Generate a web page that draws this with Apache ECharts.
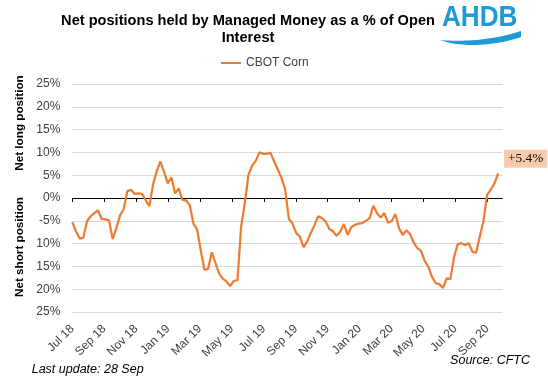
<!DOCTYPE html>
<html><head><meta charset="utf-8">
<script src="https://cdn.jsdelivr.net/npm/echarts@6/dist/echarts.min.js"></script>
<style>html,body{margin:0;padding:0;background:#fff}#c{width:548px;height:386px}</style>
</head><body><div id="c"></div>
<script>
// ---- data ----
const firstWeek = '2018-07-03';          // first weekly report
const seriesName = 'CBOT Corn';
const netPct = [
  -5.3, -7.3, -8.9, -8.7, -5.1, -4.0, -3.3, -2.7, -4.6, -4.7,
  -4.9, -9.0, -6.6, -3.8, -2.4,  1.5,  1.8,  0.9,  1.0,  0.9,
  -0.5, -1.8,  3.0,  5.9,  8.0,  5.7,  3.2,  4.5,  1.0,  2.1,
  -0.4, -0.5, -1.6, -5.6, -6.9,-11.5,-15.8,-15.5,-11.9,-14.2,
 -16.6,-17.7,-18.3,-19.3,-18.2,-18.0, -6.2, -1.1,  5.1,  7.1,
   8.2, 10.0,  9.7,  9.7,  9.9,  8.0,  6.2,  4.4,  1.8, -4.6,
  -5.6, -7.7, -8.5,-10.8, -9.5, -7.6, -5.9, -4.0, -4.4, -5.1,
  -6.8, -7.3, -8.3, -7.4, -5.7, -8.1, -6.4, -5.9, -5.6, -5.5,
  -5.0, -4.4, -1.7, -3.3, -4.3, -3.3, -5.4, -5.1, -3.5, -6.6,
  -8.1, -7.1, -7.9, -9.8,-11.0,-11.6,-13.8,-15.1,-17.3,-18.7,
 -18.9,-19.7,-17.6,-17.8,-12.9,-10.1, -9.9,-10.3, -9.9,-11.8,
 -12.0, -8.5, -5.1,  0.7,  1.8,  3.2,  5.4
];
const tickLabels = ['Jul 18','Sep 18','Nov 18','Jan 19','Mar 19','May 19','Jul 19',
                    'Sep 19','Nov 19','Jan 20','Mar 20','May 20','Jul 20','Sep 20'];

// ---- build ----
const DAYS_PER_MONTH = 30.4375;
const t0 = new Date(firstWeek + 'T00:00:00Z').getTime();
const points = netPct.map((v, i) => {
  const t = t0 + i * 7 * 86400000;
  return [(t - t0) / 86400000 / DAYS_PER_MONTH, v];
});
const tickPos = tickLabels.map((_, i) => i * 2);
const FONT = "'Liberation Sans', Arial, sans-serif";
const xMax = 26.94;

// logo swoosh outline (decorative)
function bez(p0, p1, p2, p3, n) {
  const out = [];
  for (let k = 0; k <= n; k++) {
    const t = k / n, u = 1 - t;
    out.push([u*u*u*p0[0] + 3*u*u*t*p1[0] + 3*u*t*t*p2[0] + t*t*t*p3[0],
              u*u*u*p0[1] + 3*u*u*t*p1[1] + 3*u*t*t*p2[1] + t*t*t*p3[1]]);
  }
  return out;
}
const swoosh = bez([440,40],[458,47],[492,47],[521,37],24)
  .concat(bez([521,31],[494,40],[464,42],[440,40],24));

const chart = echarts.init(document.getElementById('c'), null, {renderer: 'canvas'});
chart.setOption({
  animation: false,
  backgroundColor: '#fff',
  textStyle: {fontFamily: FONT},
  grid: {left: 72.3, right: 45.7, top: 84, bottom: 74, containLabel: false},
  legend: {
    show: true, left: 221, top: 56, padding: 0,
    icon: 'rect', itemWidth: 20, itemHeight: 2,
    textStyle: {fontFamily: FONT, fontSize: 12, color: '#404040', lineHeight: 14},
    data: [seriesName]
  },
  xAxis: [{
    type: 'value', min: 0, max: xMax, position: 'top',
    axisLine: {show: true, onZero: true, lineStyle: {color: '#000', width: 1}},
    axisTick: {show: true, inside: true, length: 4, customValues: tickPos, lineStyle: {color: '#000', width: 1}},
    axisLabel: {show: false},
    splitLine: {show: false}
  }, {
    type: 'value', min: 0, max: xMax, position: 'bottom',
    axisLine: {show: false, onZero: false},
    axisTick: {show: false},
    splitLine: {show: false},
    axisLabel: {
      show: true, customValues: tickPos, rotate: 45, margin: 15,
      fontFamily: FONT, fontSize: 12, color: '#404040',
      formatter: v => tickLabels[Math.round(v / 2)]
    }
  }],
  yAxis: {
    type: 'value', min: -25, max: 25, interval: 5,
    axisLine: {show: false}, axisTick: {show: false},
    splitLine: {show: true, lineStyle: {color: '#d9d9d9', width: 1}},
    axisLabel: {
      margin: 12, fontFamily: FONT, fontSize: 12, color: '#404040',
      formatter: v => (v === -5 ? '-5%' : Math.abs(v) + '%')
    }
  },
  series: [{
    name: seriesName, type: 'line', xAxisIndex: 0, data: points,
    showSymbol: false, symbol: 'none',
    lineStyle: {color: '#ED7D31', width: 2.25},
    itemStyle: {color: '#ED7D31'},
    endLabel: {
      show: true, distance: 5, offset: [1, -14.7],
      formatter: p => (p.value[1] > 0 ? '+' : '') + p.value[1].toFixed(1) + '%',
      fontFamily: "'Liberation Serif', 'Times New Roman', serif", fontSize: 13.3, color: '#000',
      backgroundColor: '#F8CBAD', padding: [3, 4, 2, 4]
    }
  }],
  graphic: [
    {type: 'text', x: 248, y: 29.3, style: {
      text: 'Net positions held by Managed Money as a % of Open\nInterest',
      font: "bold 14.6px " + FONT, fill: '#000', align: 'center', verticalAlign: 'middle', lineHeight: 17.6}},
    {type: 'text', x: 20, y: 123, rotation: Math.PI / 2, style: {
      text: 'Net long position', font: 'bold 11.7px ' + FONT, fill: '#000', align: 'center', verticalAlign: 'middle'}},
    {type: 'text', x: 20, y: 247, rotation: Math.PI / 2, style: {
      text: 'Net short position', font: 'bold 11.7px ' + FONT, fill: '#000', align: 'center', verticalAlign: 'middle'}},
    {type: 'text', x: 530, y: 361, style: {
      text: 'Source: CFTC', font: 'italic 12.5px ' + FONT, fill: '#000', align: 'right', verticalAlign: 'middle'}},
    {type: 'text', x: 31.7, y: 369.5, style: {
      text: 'Last update: 28 Sep', font: 'italic 12.5px ' + FONT, fill: '#000', align: 'left', verticalAlign: 'middle'}},
    {type: 'text', x: 442, y: 17.5, scaleX: 0.9, style: {
      text: 'AHDB', font: 'bold 29px ' + FONT, fill: '#1E9AD6', align: 'left', verticalAlign: 'middle'}},
    {type: 'polygon', shape: {points: swoosh}, style: {fill: '#1E9AD6'}}
  ]
});
</script>
</body></html>
